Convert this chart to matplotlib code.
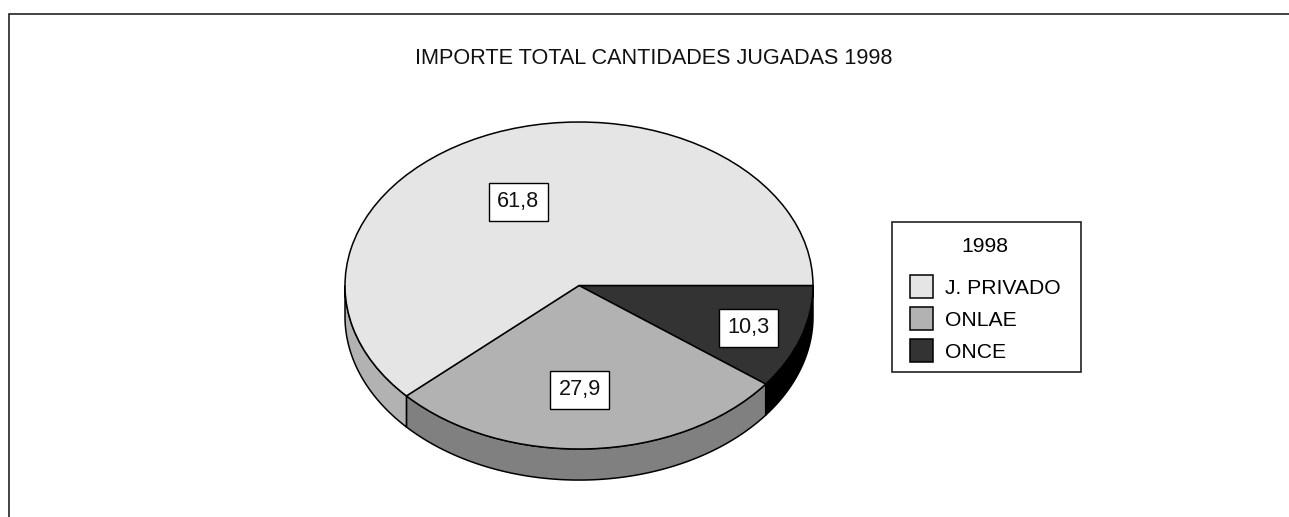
import numpy as np
import matplotlib
matplotlib.use('Agg')
import matplotlib.pyplot as plt
from matplotlib.patches import Patch, Rectangle

W = 1289
H = 517

title = 'IMPORTE TOTAL CANTIDADES JUGADAS 1998'
legend_title = '1998'
labels = ['ONCE', 'ONLAE', 'J. PRIVADO']
values = [10.3, 27.9, 61.8]
top_colors = ['#333333', '#b2b2b2', '#e5e5e5']
side_colors = ['#000000', '#808080', '#b2b2b2']

# pixel position of each value box, same order as labels
label_pos = [(748.5, 328), (579.5, 390), (518.5, 202)]

plt.rcParams['font.family'] = ['Liberation Sans', 'DejaVu Sans']
FS = 15.6
FS_LEG = 15.2
DEPTH = 0.19


def side_wall(ax, start, end, color):
    # only the front half of the pie shows a wall
    a = max(start, 180)
    b = min(end, 360)
    if b <= a:
        return
    t = np.radians(np.linspace(a, b, 100))
    x = np.cos(t)
    y = np.sin(t)
    xs = np.concatenate([x, x[::-1]])
    ys = np.concatenate([y, y[::-1] - DEPTH])
    ax.fill(xs, ys, facecolor=color, edgecolor='black', linewidth=1.1, clip_on=False, zorder=0)


fig = plt.figure(figsize=(W / 100, H / 100), dpi=100)
fig.patch.set_facecolor('white')

# overlay in pixel units for frame, box and labels
back = fig.add_axes([0, 0, 1, 1])
back.set_xlim(0, W)
back.set_ylim(H, 0)
back.axis('off')
back.plot([9, 9, W], [H, 13.5, 13.5], color='#222222', linewidth=1.2, solid_joinstyle='miter')
back.text(653.5, 59, title, fontsize=FS, ha='center', va='center', color='#111111')

ax = fig.add_axes([345 / W, 1 - 449 / H, 468 / W, 327 / H])
ax.patch.set_alpha(0)
wedges, _ = ax.pie(values, startangle=0, counterclock=False, radius=1,
                   colors=top_colors,
                   wedgeprops={'edgecolor': 'black', 'linewidth': 1.1, 'clip_on': False})
ax.set_aspect('auto')
ax.set_xlim(-1, 1)
ax.set_ylim(-1, 1)

# walls go from the east side clockwise, which is downwards on screen
ends = np.cumsum(values) / np.sum(values) * 360
starts = np.concatenate([[0], ends[:-1]])
for s, e, c in zip(starts, ends, side_colors):
    side_wall(ax, 360 - e, 360 - s, c)

front = fig.add_axes([0, 0, 1, 1])
front.set_xlim(0, W)
front.set_ylim(H, 0)
front.axis('off')
front.patch.set_alpha(0)

for v, (px, py) in zip(values, label_pos):
    txt = ('%.1f' % v).replace('.', ',')
    front.text(px, py, txt, fontsize=FS, ha='center', va='center', color='#111111',
               bbox={'boxstyle': 'square,pad=0.37', 'facecolor': 'white',
                     'edgecolor': 'black', 'linewidth': 1.0})

front.add_patch(Rectangle((892, 222), 189, 150, facecolor='white', edgecolor='#222222', linewidth=1.2))

order = [2, 1, 0]
handles = [Patch(facecolor=top_colors[i], edgecolor='black', linewidth=1.1) for i in order]
names = [labels[i] for i in order]
fs_px = FS_LEG * 100 / 72
# legend takes off part of handleheight for the descent
hh = (23 / fs_px - 0.245) / 0.65
leg = front.legend(handles, names, title=legend_title, fontsize=FS_LEG, title_fontsize=FS_LEG,
                   loc='upper left', bbox_to_anchor=(910, 237), bbox_transform=front.transData,
                   frameon=False, borderpad=0, borderaxespad=0,
                   handlelength=23 / fs_px, handleheight=hh,
                   handletextpad=12 / fs_px, labelspacing=9 / fs_px)
leg._legend_box.sep = 14

fig.savefig('out.png', dpi=100)
plt.close(fig)
